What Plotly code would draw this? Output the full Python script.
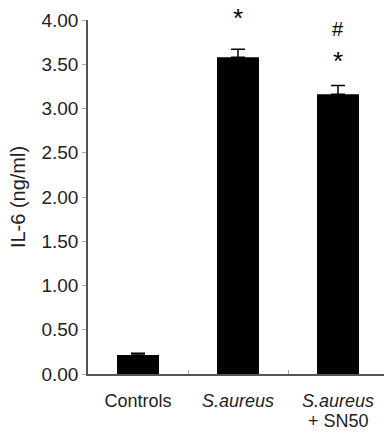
import plotly.graph_objects as go

categories = ["Controls", "S.aureus", "S.aureus + SN50"]
label_line1 = ["Controls", "<i>S.aureus</i>", "<i>S.aureus</i>"]
label_line2 = ["", "", "+ SN50"]
values = [0.215, 3.58, 3.16]
errors = [0.02, 0.09, 0.10]
tick_vals = [0, 0.5, 1.0, 1.5, 2.0, 2.5, 3.0, 3.5, 4.0]
tick_text = ["0.00", "0.50", "1.00", "1.50", "2.00", "2.50", "3.00", "3.50", "4.00"]
marks = [("*", 1, 4.22, 26), ("#", 2, 4.05, 20), ("*", 2, 3.73, 26)]
y_top = 4.0

fig = go.Figure()
fig.add_trace(go.Bar(
    x=categories, y=values, width=0.42,
    marker=dict(color="black", line=dict(width=0)),
    error_y=dict(type="data", symmetric=False, array=errors,
                 arrayminus=[0, 0, 0], color="black", thickness=1.5, width=7),
))

for txt, xi, yv, sz in marks:
    fig.add_annotation(x=categories[xi], y=yv / y_top, text=txt, showarrow=False,
                       xref="x", yref="paper",
                       font=dict(family="Liberation Sans, Arial", size=sz, color="#000000"))

for xi, t in enumerate(label_line2):
    if t:
        fig.add_annotation(x=categories[xi], y=0, yref="paper", yshift=-35,
                           text=t, showarrow=False, yanchor="top",
                           font=dict(family="Liberation Sans, Arial", size=18, color="#222"))

fig.update_layout(
    width=384, height=438,
    margin=dict(l=88, r=0, t=20, b=64, autoexpand=False),
    plot_bgcolor="white", paper_bgcolor="white",
    showlegend=False,
    font=dict(family="Liberation Sans, Arial", color="#222"),
    xaxis=dict(range=[-0.5, 2.46], showline=True, linecolor="#555", linewidth=1.5,
               tickmode="array", tickvals=categories, ticktext=label_line1,
               ticks="inside", tickson="boundaries", ticklen=4, tickcolor="#aaa",
               ticklabelstandoff=10, automargin=False,
               tickfont=dict(size=18, color="#222"), showgrid=False),
    yaxis=dict(range=[0, y_top], showline=True, linecolor="#555", linewidth=1.5,
               tickvals=tick_vals, ticktext=tick_text, ticks="outside", ticklen=4,
               tickcolor="#aaa", tickfont=dict(size=19, color="#222"),
               showgrid=False, zeroline=False, automargin=False,
               title=dict(text="IL-6 (ng/ml)", font=dict(size=20, color="#222"), standoff=10)),
)

fig.write_html("out.html", config={"displayModeBar": False},
               post_script="document.body.style.margin='0';document.body.style.overflow='hidden';")
